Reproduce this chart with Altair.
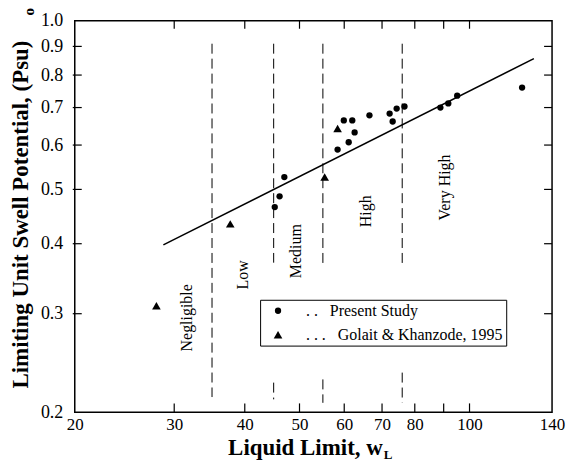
import altair as alt
import pandas as pd

FONT = "Liberation Serif"

# ---- data ----
# Present Study (circles)
ps_ll = [45.2, 46.1, 47.0, 58.4, 61.1, 62.6, 59.9, 62.0, 66.5, 72.2, 73.1, 74.3, 76.7, 88.8, 91.7, 95.1, 123.9]
ps_sp = [0.465, 0.486, 0.526, 0.589, 0.607, 0.632, 0.664, 0.664, 0.678, 0.683, 0.661, 0.697, 0.703, 0.700, 0.712, 0.735, 0.760]
# Golait & Khanzode, 1995 (triangles)
gk_ll = [27.9, 37.7, 55.4, 58.4]
gk_sp = [0.310, 0.434, 0.526, 0.642]
# fitted line end points
fit_ll = [28.7, 130.0]
fit_sp = [0.398, 0.856]
# zone labels
zones = ["Negligible", "Low", "Medium", "High", "Very High"]
zone_ll = [31.6, 39.7, 49.3, 65.7, 90.6]
zone_sp = [0.295, 0.352, 0.388, 0.457, 0.504]
# dashed boundary segments
bnd_ll = [35, 45, 45, 55, 55, 76, 76]
bnd_top = [0.91, 0.91, 0.226, 0.91, 0.229, 0.91, 0.2355]
bnd_bot = [0.213, 0.370, 0.211, 0.3635, 0.208, 0.3665, 0.208]
# axis ticks
x_ticks = [20, 30, 40, 50, 60, 70, 80, 90, 100, 140]
x_minor = [30, 40, 50, 60, 70, 80, 90, 100]
y_ticks = [0.2, 0.3, 0.4, 0.5, 0.6, 0.7, 0.8, 0.9, 1.0]
y_minor = [0.3, 0.4, 0.5, 0.6, 0.7, 0.8, 0.9]

lab1 = "\u00a0. .\u00a0\u00a0\u00a0Present Study"
lab2 = ". . .\u00a0\u00a0\u00a0Golait & Khanzode, 1995"

W, H = 479, 393

xscale = alt.Scale(type="log", domain=[20, 140], nice=False)
yscale = alt.Scale(type="log", domain=[0.2, 1.0], nice=False)

xaxis = alt.Axis(values=x_ticks, format="d",
                 labelExpr="datum.value == 90 ? '' : datum.label",
                 ticks=False, tickSize=0, domain=False, grid=False,
                 labelFont=FONT, labelFontSize=17, labelColor="black",
                 labelPadding=4, labelFlush=False, labelOverlap=False,
                 title="Liquid Limit, w", titleFont=FONT, titleFontSize=23,
                 titleFontWeight="bold", titleColor="black",
                 titleX=231, titleY=42, titleBaseline="alphabetic", titleAlign="center")
yaxis = alt.Axis(values=y_ticks, format=".1f",
                 ticks=False, tickSize=0, domain=False, grid=False,
                 labelFont=FONT, labelFontSize=18, labelColor="black",
                 labelPadding=12, labelFlush=False, labelOverlap=False,
                 title="Limiting Unit Swell Potential, (Psu)", titleFont=FONT,
                 titleFontSize=23, titleFontWeight="bold", titleColor="black",
                 titleAngle=270, titleX=-47, titleY=194, titleBaseline="alphabetic",
                 titleAlign="center")


def X(f):
    return alt.X(f, type="quantitative", scale=xscale, axis=xaxis)


def Y(f):
    return alt.Y(f, type="quantitative", scale=yscale, axis=yaxis)


pts_df = pd.DataFrame({
    "ll": ps_ll + gk_ll,
    "sp": ps_sp + gk_sp,
    "src": [lab1] * len(ps_ll) + [lab2] * len(gk_ll),
})
fit_df = pd.DataFrame({"ll": fit_ll, "sp": fit_sp})
zone_df = pd.DataFrame({"ll": zone_ll, "sp": zone_sp, "zone": zones})
bnd_df = pd.DataFrame({"ll": bnd_ll, "sp": bnd_top, "sp2": bnd_bot})
xt_df = pd.DataFrame({"ll": x_minor})
yt_df = pd.DataFrame({"sp": y_minor})
one = pd.DataFrame({"t": ["x"]})

bounds = alt.Chart(bnd_df).mark_rule(color="black", strokeWidth=1, strokeDash=[10, 5]).encode(
    x=X("ll"), y=Y("sp"), y2="sp2:Q")

top_ticks = alt.Chart(xt_df).mark_rule(color="black", strokeWidth=1.2).encode(
    x=X("ll"), y=alt.value(0), y2=alt.value(8))
bot_ticks = alt.Chart(xt_df).mark_rule(color="black", strokeWidth=1.2).encode(
    x=X("ll"), y=alt.value(H), y2=alt.value(H - 9))
left_ticks = alt.Chart(yt_df).mark_rule(color="black", strokeWidth=1.2).encode(
    y=Y("sp"), x=alt.value(-2), x2=alt.value(7))
right_ticks = alt.Chart(yt_df).mark_rule(color="black", strokeWidth=1.2).encode(
    y=Y("sp"), x=alt.value(W), x2=alt.value(W - 8))

fit = alt.Chart(fit_df).mark_line(color="black", strokeWidth=1.5).encode(x=X("ll"), y=Y("sp"))

points = alt.Chart(pts_df).mark_point(filled=True, color="black", opacity=1).encode(
    x=X("ll"), y=Y("sp"),
    shape=alt.Shape("src:N", scale=alt.Scale(domain=[lab1, lab2], range=["circle", "triangle-up"]),
                    legend=alt.Legend(title=None, orient="none", legendX=186, legendY=280,
                                      padding=3, symbolOffset=7, labelOffset=20, rowPadding=8,
                                      labelLimit=400,
                                      labelFont=FONT, labelFontSize=16, labelColor="black",
                                      strokeColor="black", fillColor="white",
                                      symbolFillColor="black", symbolStrokeColor="black")),
    size=alt.Size("src:N", scale=alt.Scale(domain=[lab1, lab2], range=[40, 75])),
)

zone_text = alt.Chart(zone_df).mark_text(font=FONT, fontSize=16, angle=270, align="center",
                                         baseline="middle", color="black").encode(
    x=X("ll"), y=Y("sp"), text="zone:N")

sub_L = alt.Chart(one).mark_text(text="L", font=FONT, fontSize=13, fontWeight="bold",
                                 align="left", baseline="alphabetic", color="black").encode(
    x=alt.value(310), y=alt.value(440))
sub_o = alt.Chart(one).mark_text(text="o", font=FONT, fontSize=15, fontWeight="bold", angle=270,
                                 align="center", baseline="middle", color="black").encode(
    x=alt.value(-46), y=alt.value(-9))

chart = alt.layer(bounds, top_ticks, bot_ticks, left_ticks, right_ticks, fit, points,
                  zone_text, sub_L, sub_o).properties(
    width=W, height=H,
    autosize=alt.AutoSizeParams(type="none"),
    padding={"left": 67, "top": 12, "right": 14, "bottom": 50},
    background="white",
).configure_view(stroke="black", strokeWidth=1.5)

chart.save("out.html", embed_options={"renderer": "svg", "actions": False})
